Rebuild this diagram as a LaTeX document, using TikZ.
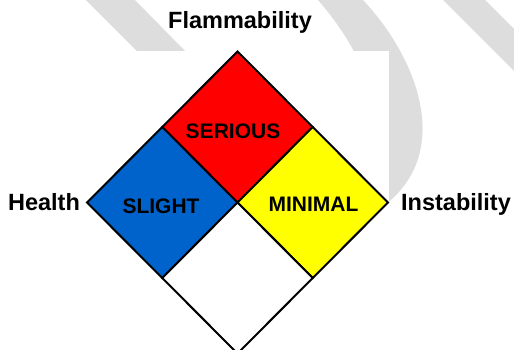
\documentclass[tikz,border=0pt]{standalone}
\usepackage{fontspec}
\setmainfont{Liberation Sans}
\usetikzlibrary{positioning}
\definecolor{nfpared}{RGB}{255,0,0}
\definecolor{nfpablue}{RGB}{0,99,204}
\definecolor{nfpayellow}{RGB}{255,255,0}
\definecolor{markgray}{RGB}{221,221,221}

\begin{document}
\begin{tikzpicture}[x=1pt,y=-1pt]
\tikzstyle{quarter} = [draw=black, line width=2pt]
\tikzstyle{axis} = [font=\bfseries\fontsize{23.5}{28}\selectfont, inner sep=0pt, anchor=base]
\tikzstyle{level} = [font=\bfseries\fontsize{21}{25}\selectfont, inner sep=0pt, anchor=base]

\useasboundingbox (0,0) rectangle (514,349);

% grey bands in the back, partly hidden by the white panel
\fill[markgray] (86,0) -- (135,0) -- (185,51) -- (137,51) -- cycle;
\fill[markgray] (443,0) -- (485,0) -- (514,29) -- (514,71) -- cycle;
\fill[markgray] (318,0) -- (363,0) .. controls (415,55) and (455,150) .. (385,205)
   -- (370,220) .. controls (395,130) and (370,60) .. (318,0);
\fill[white] (137,51) rectangle (389,349);

% corners and edge midpoints of the sign
\coordinate (T)  at (237.5,51.5);
\coordinate (L)  at (87,202.5);
\coordinate (R)  at (388,202.5);
\coordinate (B)  at (237.5,353.5);
\coordinate (C)  at (237.5,202.5);
\coordinate (TL) at (162.25,127);
\coordinate (TR) at (312.75,127);
\coordinate (BL) at (162.25,278);
\coordinate (BR) at (312.75,278);

\path[quarter, fill=nfpared]    (T) -- (TR) -- (C) -- (TL) -- cycle;
\path[quarter, fill=nfpablue]   (TL) -- (C) -- (BL) -- (L) -- cycle;
\path[quarter, fill=nfpayellow] (TR) -- (R) -- (BR) -- (C) -- cycle;
\path[quarter, fill=white]      (C) -- (BR) -- (B) -- (BL) -- cycle;

\node[axis]  (flam)   at (240,28.5)  {Flammability};
\node[axis]  (health) at (44,210)    {Health};
\node[axis]  (inst)   at (456,210)   {Instability};
\node[level] (fire)   at (233,138)   {SERIOUS};
\node[level] (hlth)   at (161,213)   {SLIGHT};
\node[level] (reac)   at (313.5,211) {MINIMAL};

\end{tikzpicture}
\end{document}
